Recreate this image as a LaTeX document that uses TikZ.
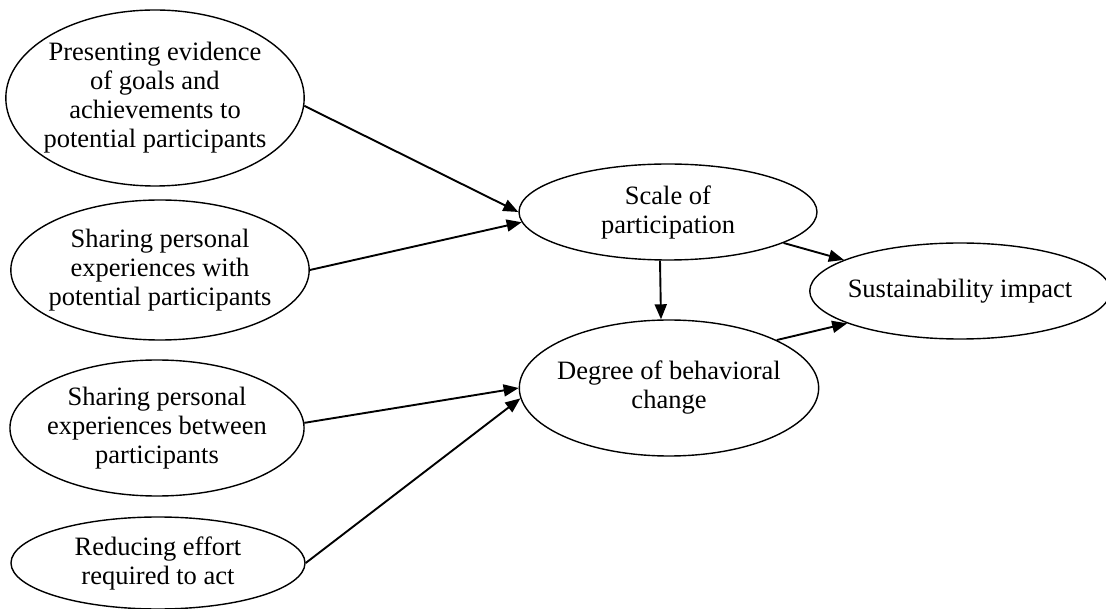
\documentclass[tikz,border=0pt]{standalone}
\usepackage{fontspec}
\setmainfont{Liberation Serif}
\usetikzlibrary{positioning, arrows.meta, shapes.geometric}
\definecolor{Dark}{HTML}{000000}
\tikzset{
    bubble/.style={ellipse, draw=Dark, line width=1.4pt, align=center, inner xsep=-6pt, inner ysep=0pt, text=Dark, font=\fontsize{26.5}{29}\selectfont},
    arrow/.style={-{Triangle[length=15pt, width=12pt]}, line width=1.9pt, color=Dark},
}

\begin{document}
\begin{tikzpicture}[x=1pt, y=-1pt]
    \useasboundingbox (0,0) rectangle (1106,609);

    % --- Fattori (colonna sinistra) ---
    \node[bubble, minimum width=294pt, minimum height=176pt] (evidence) at (155, 98) {Presenting evidence\\of goals and\\achievements to\\potential participants};
    \node[bubble, minimum width=294pt, minimum height=140pt] (sharepot) at (160, 270) {Sharing personal\\experiences with\\potential participants};
    \node[bubble, minimum width=290pt, minimum height=136pt] (sharebtw) at (157, 428) {Sharing personal\\experiences between\\participants};
    \node[bubble, minimum width=294pt, minimum height=92pt] (effort) at (158, 563) {Reducing effort\\required to act};

    % --- Mediatori ---
    \node[bubble, minimum width=298pt, minimum height=96pt] (scale) at (668, 212) {Scale of\\participation};
    \node[bubble, minimum width=294pt, minimum height=136pt] (change) at (669, 388) {Degree of behavioral\\change};

    % --- Esito ---
    \node[bubble, minimum width=290pt, minimum height=96pt] (impact) at (960, 291) {Sustainability impact};

    % --- Frecce ---
    \draw[arrow] (evidence.-3) -- (scale.west);
    \draw[arrow] (sharepot.east) -- (scale.184);
    \draw[arrow] (sharebtw.2) -- (change.west);
    \draw[arrow] (effort.east) -- (change.184);
    \draw[arrow] ([xshift=-8pt]scale.south) -- ([xshift=-8pt]change.north);
    \draw[arrow] (scale.-15) -- (impact.165);
    \draw[arrow] (change.24) -- (impact.196);

\end{tikzpicture}
\end{document}
